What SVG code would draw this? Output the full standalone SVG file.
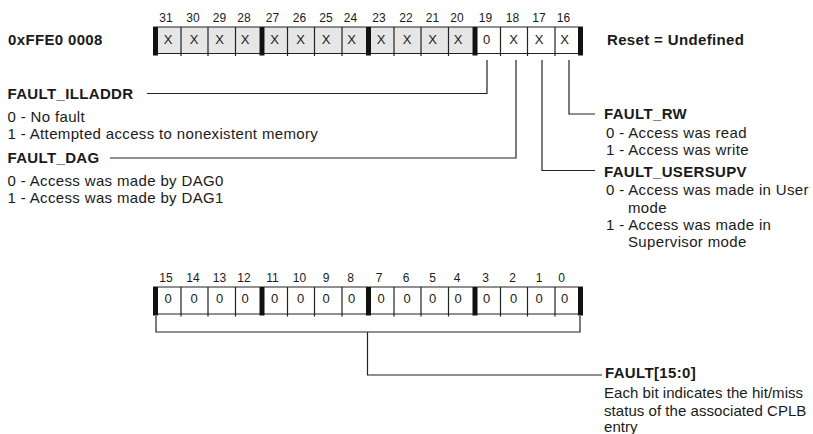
<svg xmlns="http://www.w3.org/2000/svg" width="813" height="434" viewBox="0 0 813 434">
<style>
text{font-family:"Liberation Sans",Arial,sans-serif;fill:#1a1a1a;}
.b{font-weight:bold;font-size:15px;letter-spacing:0.35px;}
.d{font-size:15px;letter-spacing:0.35px;}
.t{font-size:15px;letter-spacing:0.05px;}
.n{font-size:12px;text-anchor:middle;}
.c{font-size:13px;text-anchor:middle;}
.gray{fill:#e6e6e6;}
.white{fill:#fff;}
.edge{stroke:#222;stroke-width:1.2;fill:none;}
.bar{fill:#111;}
.conn{stroke:#222;stroke-width:1.2;fill:none;}
</style>

<g id="register-top">
  <rect class="gray" x="158" y="27" width="101.5" height="26.5"/>
  <rect class="gray" x="264.5" y="27" width="101.5" height="26.5"/>
  <rect class="gray" x="371" y="27" width="101.5" height="26.5"/>
  <rect class="white" x="477.5" y="27" width="100.5" height="26.5"/>
  <path class="edge" d="M153,27H583M153,53.5H583
    M181,27V56M208,27V56M235.5,27V56
    M287.5,27V56M314.5,27V56M342,27V56
    M394,27V56M421,27V56M448.5,27V56
    M500.5,27V56M527.5,27V56M555,27V56"/>
  <rect class="bar" x="153" y="27" width="5" height="28.5"/>
  <rect class="bar" x="259.5" y="27" width="5" height="28.5"/>
  <rect class="bar" x="366" y="27" width="5" height="28.5"/>
  <rect class="bar" x="472.5" y="27" width="5" height="28.5"/>
  <rect class="bar" x="578" y="27" width="5" height="28.5"/>
  <text class="n" x="166" y="22">31</text><text class="n" x="193" y="22">30</text><text class="n" x="219.5" y="22">29</text><text class="n" x="244" y="22">28</text>
  <text class="n" x="272.5" y="22">27</text><text class="n" x="299.5" y="22">26</text><text class="n" x="326" y="22">25</text><text class="n" x="350.5" y="22">24</text>
  <text class="n" x="379" y="22">23</text><text class="n" x="406" y="22">22</text><text class="n" x="432.5" y="22">21</text><text class="n" x="457" y="22">20</text>
  <text class="n" x="485.5" y="22">19</text><text class="n" x="512.5" y="22">18</text><text class="n" x="539" y="22">17</text><text class="n" x="563.5" y="22">16</text>
  <text class="c" x="168" y="43.5">X</text><text class="c" x="194" y="43.5">X</text><text class="c" x="219.5" y="43.5">X</text><text class="c" x="245" y="43.5">X</text>
  <text class="c" x="274.5" y="43.5">X</text><text class="c" x="300.5" y="43.5">X</text><text class="c" x="326" y="43.5">X</text><text class="c" x="351.5" y="43.5">X</text>
  <text class="c" x="381" y="43.5">X</text><text class="c" x="407" y="43.5">X</text><text class="c" x="432.5" y="43.5">X</text><text class="c" x="458" y="43.5">X</text>
  <text class="c" x="486.5" y="43.5">0</text><text class="c" x="513.5" y="43.5">X</text><text class="c" x="539" y="43.5">X</text><text class="c" x="564.5" y="43.5">X</text>
</g>

<g id="register-bottom">
  <rect class="white" x="158" y="287" width="420" height="27"/>
  <path class="edge" d="M153,287H583M153,314H583
    M181,287V316.5M208,287V316.5M235.5,287V316.5
    M287.5,287V316.5M314.5,287V316.5M342,287V316.5
    M394,287V316.5M421,287V316.5M448.5,287V316.5
    M500.5,287V316.5M527.5,287V316.5M555,287V316.5"/>
  <rect class="bar" x="153" y="287" width="5" height="28.5"/>
  <rect class="bar" x="259.5" y="287" width="5" height="28.5"/>
  <rect class="bar" x="366" y="287" width="5" height="28.5"/>
  <rect class="bar" x="472.5" y="287" width="5" height="28.5"/>
  <rect class="bar" x="578" y="287" width="5" height="28.5"/>
  <text class="n" x="166" y="282">15</text><text class="n" x="193" y="282">14</text><text class="n" x="219.5" y="282">13</text><text class="n" x="244" y="282">12</text>
  <text class="n" x="272.5" y="282">11</text><text class="n" x="299.5" y="282">10</text><text class="n" x="326" y="282">9</text><text class="n" x="350.5" y="282">8</text>
  <text class="n" x="379" y="282">7</text><text class="n" x="406" y="282">6</text><text class="n" x="432.5" y="282">5</text><text class="n" x="457" y="282">4</text>
  <text class="n" x="485.5" y="282">3</text><text class="n" x="512.5" y="282">2</text><text class="n" x="539" y="282">1</text><text class="n" x="561.5" y="282">0</text>
  <text class="c" x="168" y="302.5">0</text><text class="c" x="194" y="302.5">0</text><text class="c" x="219.5" y="302.5">0</text><text class="c" x="245" y="302.5">0</text>
  <text class="c" x="274.5" y="302.5">0</text><text class="c" x="300.5" y="302.5">0</text><text class="c" x="326" y="302.5">0</text><text class="c" x="351.5" y="302.5">0</text>
  <text class="c" x="381" y="302.5">0</text><text class="c" x="407" y="302.5">0</text><text class="c" x="432.5" y="302.5">0</text><text class="c" x="458" y="302.5">0</text>
  <text class="c" x="486.5" y="302.5">0</text><text class="c" x="513.5" y="302.5">0</text><text class="c" x="539" y="302.5">0</text><text class="c" x="564.5" y="302.5">0</text>
</g>

<g id="connectors">
  <path class="conn" d="M487,60V93.5H147"/>
  <path class="conn" d="M516,60V158H110"/>
  <path class="conn" d="M542,60V170.5H595"/>
  <path class="conn" d="M569,60V114H595"/>
  <path class="conn" d="M156,316V332H580V316"/>
  <path class="conn" d="M367.5,332V375H602"/>
</g>

<g id="address"><text class="b" x="8" y="45">0xFFE0 0008</text></g>
<g id="reset"><text class="b" x="607" y="45">Reset = Undefined</text></g>

<g id="fault-illaddr">
  <text class="b" x="7.5" y="99">FAULT_ILLADDR</text>
  <text class="d" x="7.5" y="122">0 - No fault</text>
  <text class="d" x="7.5" y="139">1 - Attempted access to nonexistent memory</text>
</g>
<g id="fault-dag">
  <text class="b" x="7.5" y="162.5">FAULT_DAG</text>
  <text class="d" x="7.5" y="185.5">0 - Access was made by DAG0</text>
  <text class="d" x="7.5" y="202.5">1 - Access was made by DAG1</text>
</g>
<g id="fault-rw">
  <text class="b" x="604" y="118.5">FAULT_RW</text>
  <text class="d" x="606" y="138">0 - Access was read</text>
  <text class="d" x="606" y="155">1 - Access was write</text>
</g>
<g id="fault-usersupv">
  <text class="b" x="604" y="176.5">FAULT_USERSUPV</text>
  <text class="d" x="606" y="195">0 - Access was made in User</text>
  <text class="d" x="628" y="213">mode</text>
  <text class="d" x="606" y="230">1 - Access was made in</text>
  <text class="d" x="628" y="247">Supervisor mode</text>
</g>
<g id="fault-15-0">
  <text class="b" x="605" y="378">FAULT[15:0]</text>
  <text class="t" x="604" y="398">Each bit indicates the hit/miss</text>
  <text class="t" x="604" y="415.5">status of the associated CPLB</text>
  <text class="t" x="604" y="432">entry</text>
</g>
</svg>
